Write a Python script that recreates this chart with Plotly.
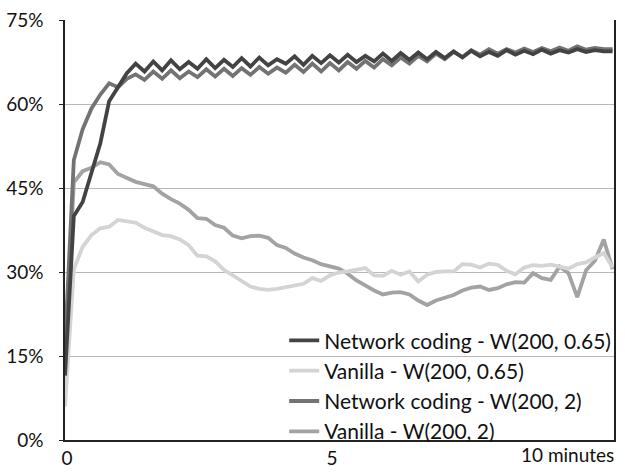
import plotly.graph_objects as go

# time in minutes (one sample every 10 s)
step_minutes = 1 / 6
n_points = 63
time_min = [i * step_minutes for i in range(n_points)]

nc_065 = [11.5, 40.0, 42.5, 47.5, 53.0, 60.5, 63.0, 65.5,
          67.2, 65.8, 67.6, 66.0, 67.8, 66.2, 67.5, 66.3, 68.0, 66.4,
          67.9, 66.6, 68.2, 66.7, 68.3, 66.9, 68.0, 67.2, 68.5, 67.0,
          68.6, 67.3, 68.7, 67.4, 68.8, 67.5, 68.6, 67.6, 69.0, 67.7,
          69.1, 67.9, 69.2, 68.0, 69.3, 68.2, 69.4, 68.3, 69.5, 68.5,
          69.3, 68.6, 69.6, 68.8, 69.5, 68.9, 69.7, 69.0, 69.6, 69.2,
          69.8, 69.3, 69.6, 69.4, 69.4]

van_065 = [6.0, 30.5, 34.5, 36.6, 37.8, 38.1, 39.3, 39.1, 38.8, 37.9,
           37.2, 36.6, 36.4, 35.8, 34.8, 32.9, 32.8, 31.9, 30.4, 29.4,
           28.4, 27.4, 27.0, 26.8, 27.0, 27.3, 27.6, 27.9, 28.9, 28.4,
           29.4, 29.9, 30.1, 30.4, 30.7, 29.4, 29.3, 30.2, 29.5, 30.1,
           28.3, 29.5, 30.0, 30.1, 30.1, 31.4, 31.3, 30.8, 31.5, 31.3,
           30.2, 29.6, 30.8, 31.2, 31.1, 31.3, 31.0, 30.6, 31.4, 31.7,
           32.6, 33.4, 30.8]

nc_2 = [17.0, 50.0, 55.5, 59.2, 61.7, 63.7, 63.0, 64.5,
        65.3, 64.3, 65.8, 64.5, 66.0, 64.6, 65.8, 64.8, 66.2, 64.9,
        66.3, 65.0, 66.4, 65.2, 66.6, 65.4, 66.5, 65.6, 67.0, 65.7,
        67.2, 65.8, 67.3, 66.0, 67.5, 66.3, 67.7, 66.5, 68.0, 66.9,
        68.3, 67.2, 68.6, 67.6, 69.0, 68.0, 69.3, 68.4, 69.6, 68.8,
        69.8, 69.0, 69.8, 69.2, 69.9, 69.3, 70.0, 69.4, 70.1, 69.5,
        70.3, 69.7, 70.0, 69.8, 69.8]

van_2 = [15.0, 46.0, 48.0, 48.6, 49.6, 49.2, 47.5, 46.8, 46.1, 45.7,
         45.3, 44.0, 43.0, 42.2, 41.1, 39.6, 39.5, 38.4, 37.9, 36.5,
         36.0, 36.4, 36.5, 36.1, 34.8, 34.3, 33.3, 32.6, 32.1, 31.4,
         31.0, 30.6, 29.7, 28.5, 27.6, 26.7, 26.0, 26.3, 26.4, 26.0,
         24.9, 24.1, 24.9, 25.4, 25.9, 26.7, 27.2, 27.4, 26.8, 27.1,
         27.8, 28.2, 28.1, 29.8, 28.9, 28.6, 31.0, 29.8, 25.5, 30.3,
         32.0, 35.8, 30.5]

series_names = ["Network coding - W(200, 0.65)", "Vanilla - W(200, 0.65)",
                "Network coding - W(200, 2)", "Vanilla - W(200, 2)"]
series_values = [nc_065, van_065, nc_2, van_2]
series_colors = ["#434343", "#d4d4d4", "#737373", "#a3a3a3"]
draw_order = [3, 1, 2, 0]

y_tick_vals = [0, 15, 30, 45, 60, 75]
y_tick_text = ["0%", "15%", "30%", "45%", "60%", "75%"]
x_tick_vals = [0, 5]
x_tick_text = ["0", "5"]
x_last_label = "10 minutes"

FONT = "Lato, 'Open Sans', sans-serif"
TICK_FS = 19
LEG_FS = 21

fig = go.Figure()
for k in draw_order:
    fig.add_trace(go.Scatter(
        x=time_min, y=series_values[k], mode="lines", name=series_names[k],
        line=dict(color=series_colors[k], width=3.8),
        legendrank=k + 1, legendgroup=str(k)))

fig.update_layout(
    width=625, height=472,
    margin=dict(l=65, r=11, t=20, b=32, autoexpand=False),
    paper_bgcolor="white", plot_bgcolor="white",
    font=dict(family=FONT, size=TICK_FS, color="#111111"),
    showlegend=True,
    legend=dict(x=1.004, xanchor="right", y=0.128, yanchor="middle",
                bgcolor="rgba(0,0,0,0)", font=dict(size=LEG_FS, color="#111111"),
                tracegroupgap=0, itemwidth=30),
    xaxis=dict(range=[0, 10.36], tickvals=x_tick_vals, ticktext=x_tick_text,
               showgrid=False, zeroline=False, showline=True,
               linecolor="#222222", linewidth=1.5, ticks="",
               automargin=False, ticklabelshift=2,
               tickfont=dict(size=TICK_FS)),
    yaxis=dict(range=[0, 75], tickvals=y_tick_vals, ticktext=y_tick_text,
               showgrid=True, gridcolor="#b8b8b8", gridwidth=1,
               zeroline=False, showline=True, mirror=True,
               linecolor="#222222", linewidth=1.5,
               ticks="outside", ticklen=4, tickcolor="#222222",
               automargin=False, ticklabelstandoff=12,
               tickfont=dict(size=TICK_FS)),
)

fig.add_annotation(text=x_last_label, xref="paper", yref="paper",
                   x=1, y=0, xanchor="right", yanchor="top", yshift=-1,
                   xshift=2, showarrow=False,
                   font=dict(size=TICK_FS, color="#111111"))

fig.write_html("out.html")
